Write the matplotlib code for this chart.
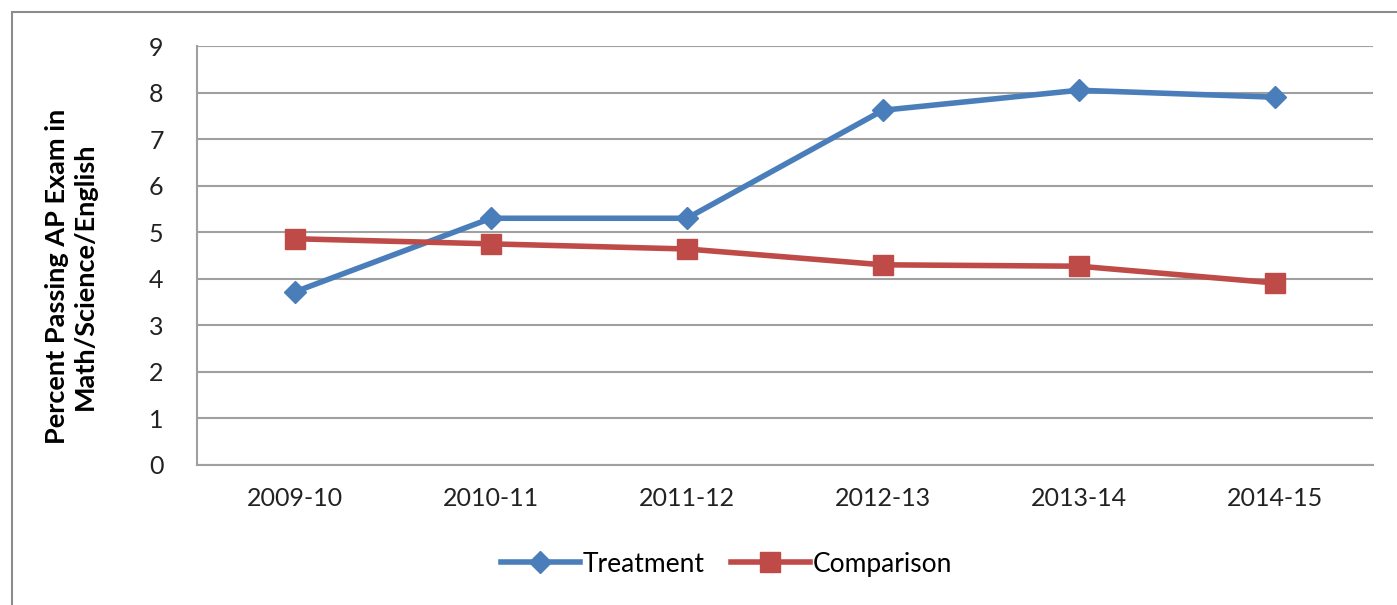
import matplotlib.pyplot as plt
from matplotlib.patches import Rectangle

years = ["2009-10", "2010-11", "2011-12", "2012-13", "2013-14", "2014-15"]
treatment = [3.72, 5.30, 5.30, 7.62, 8.05, 7.90]
comparison = [4.86, 4.75, 4.64, 4.30, 4.27, 3.91]

plt.rcParams['font.family'] = ['Lato', 'DejaVu Sans']

fig = plt.figure(figsize=(13.97, 6.05), dpi=100)
ax = fig.add_axes([197 / 1397, 1 - 465 / 605, 1176 / 1397, 419 / 605])

# outer chart border
fig.patches.append(Rectangle((12 / 1397, -0.01), 1.0, 1 - 12 / 605 + 0.01,
                             transform=fig.transFigure, fill=False,
                             edgecolor='#8c8c8c', linewidth=1.5))

x = list(range(len(years)))
ax.plot(x, treatment, color='#4a7ebb', linewidth=4, marker='D', markersize=11,
        label='Treatment', zorder=3)
ax.plot(x, comparison, color='#be4b48', linewidth=4, marker='s', markersize=14,
        label='Comparison', zorder=3)

ax.set_xlim(-0.5, 5.5)
ax.set_ylim(0, 9)
ax.set_yticks(range(0, 10))
ax.set_xticks(x)
ax.set_xticklabels(years)
ax.tick_params(axis='both', length=0, labelsize=18, colors='#222222')
ax.tick_params(axis='y', pad=24)
ax.tick_params(axis='x', pad=16)

ax.grid(axis='y', color='#a0a0a0', linewidth=1.5)
ax.set_axisbelow(True)
for side in ['top', 'right']:
    ax.spines[side].set_visible(False)
for side in ['left', 'bottom']:
    ax.spines[side].set_color('#a0a0a0')
    ax.spines[side].set_linewidth(1.5)

ax.set_ylabel("Percent Passing AP Exam in\nMath/Science/English", fontsize=19.5,
              fontweight='bold', linespacing=1.2)
ax.yaxis.set_label_coords(-0.085, 0.45)

ax.legend(loc='upper center', bbox_to_anchor=(0.45, -0.15), ncol=2, frameon=False,
          fontsize=19, handlelength=3.0, handletextpad=0.1, columnspacing=1.0)

fig.savefig('out.png', dpi=100)
